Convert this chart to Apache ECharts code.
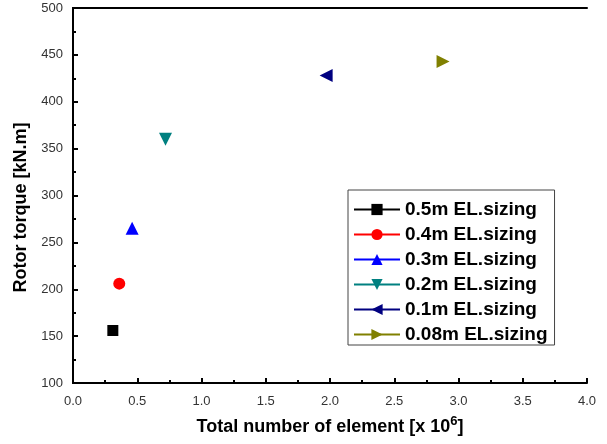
<!DOCTYPE html>
<html><head><meta charset="utf-8">
<script src="https://cdn.jsdelivr.net/npm/echarts@6/dist/echarts.min.js"></script>
<style>html,body{margin:0;padding:0;background:#fff}#c{width:607px;height:444px}</style>
</head><body><div id="c"></div>
<script>
const seriesNames = ['0.5m EL.sizing','0.4m EL.sizing','0.3m EL.sizing','0.2m EL.sizing','0.1m EL.sizing','0.08m EL.sizing'];
const elementCounts = [0.31, 0.36, 0.46, 0.72, 1.97, 2.88];
const rotorTorque = [156, 206, 265, 360, 428, 443];
const colors = ['#000000','#ff0000','#0000ff','#008080','#000080','#808000'];
const symbols = ['rect','circle','triangle','triangle','triangle','triangle'];
const rotations = [0,0,0,180,90,-90];
const sizes = [11,12,13,13,13,13];

const chart = echarts.init(document.getElementById('c'));
const font = 'Arial, "Liberation Sans", sans-serif';
const series = seriesNames.map((n,i)=>({
  name:n, type:'line', data:[[elementCounts[i], rotorTorque[i]]],
  symbol:symbols[i], symbolRotate:rotations[i], symbolSize:sizes[i],
  itemStyle:{color:colors[i]}, lineStyle:{color:colors[i], width:1},
  emphasis:{disabled:true}
}));
series.push({type:'line', data:[], xAxisIndex:1, yAxisIndex:1});
chart.setOption({
  animation:false,
  grid:{left:73, top:8, width:514, height:375},
  legend:{
    data:seriesNames, orient:'vertical', left:348, top:190,
    itemWidth:46, itemHeight:14, itemGap:6, padding:[10,7,1,5],
    borderColor:'#444', borderWidth:1,
    textStyle:{fontFamily:font, fontWeight:'bold', fontSize:19, color:'#000', lineHeight:18}
  },
  xAxis:[{
    type:'value', min:0, max:4, interval:0.5,
    axisLine:{lineStyle:{color:'#000', width:2}},
    axisTick:{inside:true, length:5, lineStyle:{width:2}},
    minorTick:{show:true, splitNumber:2, length:3, lineStyle:{color:'#000', width:2}},
    splitLine:{show:false},
    axisLabel:{fontFamily:font, fontSize:13, color:'#333', margin:12, formatter:v=>v.toFixed(1)},
    name:'{a|Total number of element [x 10}{s|6}{a|]}', nameLocation:'middle', nameGap:32,
    nameTextStyle:{rich:{a:{fontFamily:font, fontWeight:'bold', fontSize:18, color:'#000'},
      s:{fontFamily:font, fontWeight:'bold', fontSize:13, color:'#000', verticalAlign:'top', padding:[0,0,12,0]}}}
  },{
    type:'value', min:0, max:4, position:'top', axisLine:{lineStyle:{color:'#000', width:2}},
    axisTick:{show:false}, axisLabel:{show:false}, splitLine:{show:false}
  }],
  yAxis:[{
    type:'value', min:100, max:500, interval:50,
    axisLine:{show:true, lineStyle:{color:'#000', width:2}},
    axisTick:{inside:true, length:5, lineStyle:{width:2}},
    minorTick:{show:true, splitNumber:2, length:3, lineStyle:{color:'#000', width:2}},
    splitLine:{show:false},
    axisLabel:{fontFamily:font, fontSize:13, color:'#333', margin:10},
    name:'Rotor torque [kN.m]', nameLocation:'middle', nameGap:42,
    nameTextStyle:{fontFamily:font, fontWeight:'bold', fontSize:18, color:'#000', padding:[0,24,0,0]}
  },{
    type:'value', min:100, max:500, position:'right',
    axisLine:{show:true, lineStyle:{color:'#000', width:2}},
    axisTick:{show:false}, axisLabel:{show:false}, splitLine:{show:false}
  }],
  series:series
});
</script></body></html>
